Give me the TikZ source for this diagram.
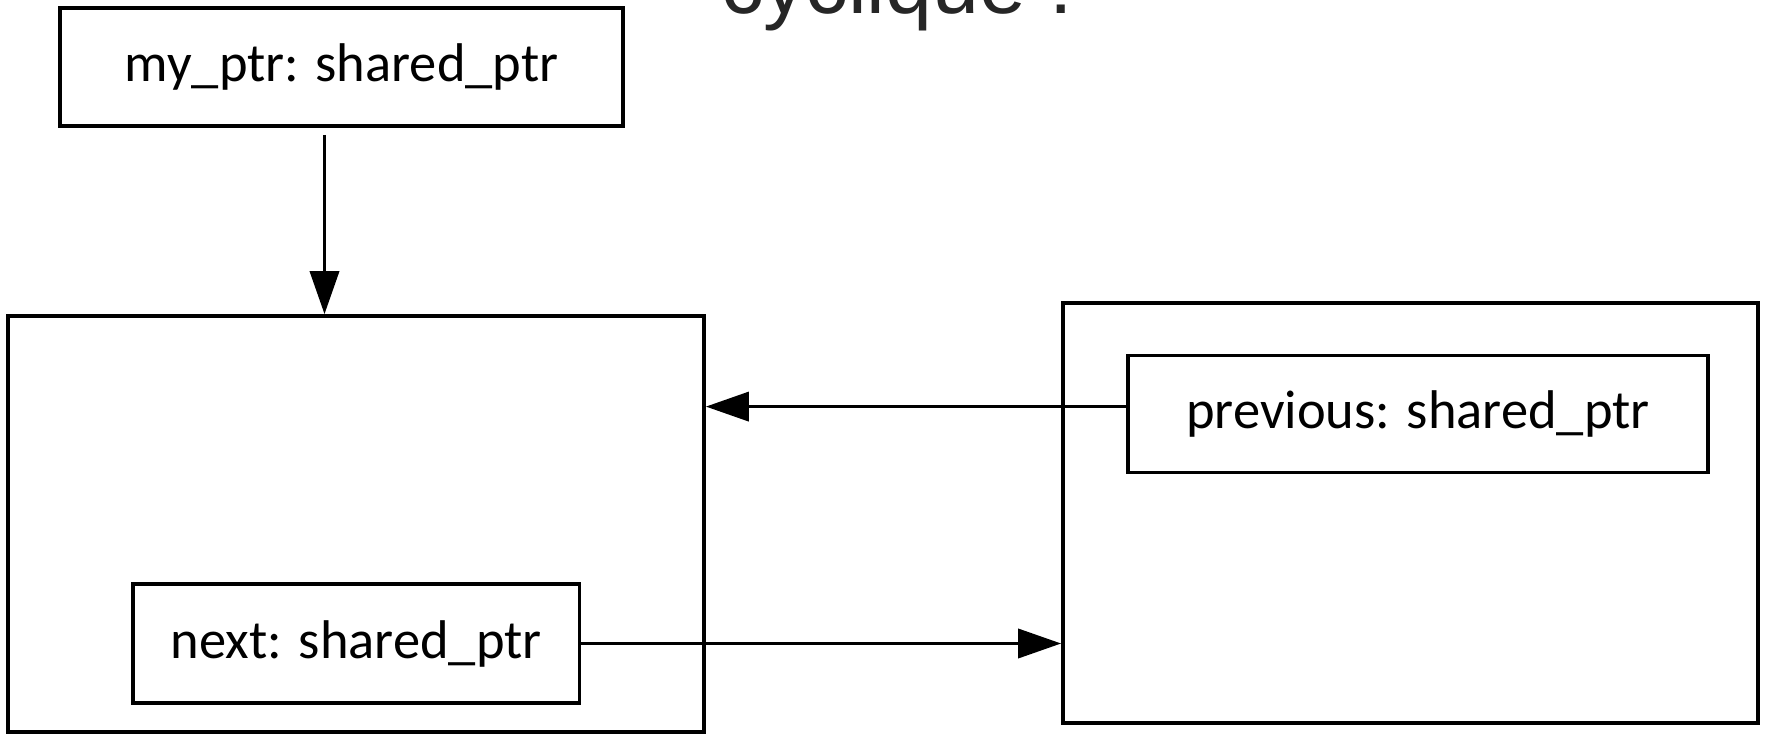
\documentclass[tikz,border=0pt]{standalone}
\usepackage{fontspec}
\setmainfont{Carlito}
\newfontfamily\titlefont{Liberation Sans}
\usetikzlibrary{arrows.meta}
\definecolor{titlegray}{RGB}{38,38,38}

\begin{document}
\begin{tikzpicture}[>={Triangle[length=4.3mm,width=2.9mm]},line width=1.05pt,
	ptrbox/.style={draw,rectangle,inner sep=0pt,font=\fontsize{15.5}{18}\selectfont},
	objbox/.style={draw,rectangle,inner sep=0pt}]
	\useasboundingbox (0,0) rectangle (17.65,-7.34);
	\clip (0,0) rectangle (17.65,-7.34);
	% titre coupe en haut
	\node[anchor=base west,inner sep=0pt,text=titlegray,font=\titlefont\fontsize{24}{28}\selectfont] (titre) at (7.197,-0.14) {cyclique :};
	% les deux objets
	\node[objbox,minimum width=6.96cm,minimum height=4.16cm] (objA) at (3.56,-5.24) {};
	\node[objbox,minimum width=6.95cm,minimum height=4.2cm] (objB) at (14.105,-5.13) {};
	% les pointeurs
	\node[ptrbox,minimum width=5.63cm,minimum height=1.18cm] (myptr) at (3.415,-0.67) {my\_ptr: shared\_ptr};
	\node[ptrbox,minimum width=4.465cm,minimum height=1.19cm] (next) at (3.5625,-6.435) {next: shared\_ptr};
	\node[ptrbox,minimum width=5.8cm,minimum height=1.17cm] (previous) at (14.18,-4.14) {previous: shared\_ptr};
	\coordinate (depart) at (3.245,-1.35);
	\draw[->] (depart) -- (depart |- objA.north);
	\draw[->] ([yshift=0.074cm]previous.west) -- ([yshift=0.074cm]previous.west -| objA.east);
	\draw[->] (next.east) -- (next.east -| objB.west);
\end{tikzpicture}
\end{document}
